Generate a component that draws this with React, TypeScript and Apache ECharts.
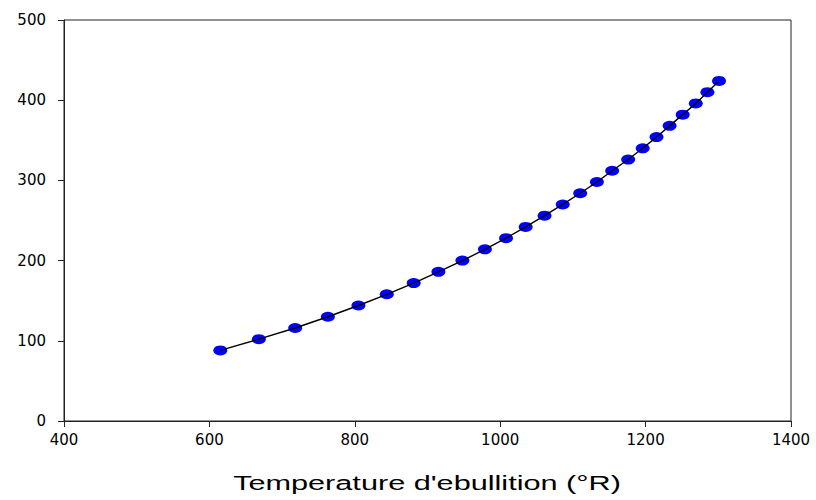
import React, { useEffect, useRef } from "react";
import * as echarts from "echarts";

const temperatures = [615, 668, 718, 763, 805, 844, 881, 915, 948, 979, 1008, 1035, 1061, 1086, 1110, 1133, 1154, 1176, 1196, 1215, 1233, 1251, 1269, 1285, 1301];
const values = [88, 102, 116, 130, 144, 158, 172, 186, 200, 214, 228, 242, 256, 270, 284, 298, 312, 326, 340, 354, 368, 382, 396, 410, 424];
const xTitle = "Temperature d'ebullition (°R)";

export default function App() {
  const ref = useRef<HTMLDivElement>(null);
  useEffect(() => {
    if (!ref.current) return;
    const chart = echarts.init(ref.current, null, { renderer: "svg" });
    const pts = temperatures.map((t, i) => [t, values[i]]);
    const axisColor = "#222";
    const fmt = (v: number) => String(v);
    chart.setOption({
      animation: false,
      backgroundColor: "#fff",
      grid: { left: 64, right: 25, top: 20, bottom: 79, show: true, borderColor: axisColor, borderWidth: 1 },
      xAxis: {
        type: "value",
        min: 400,
        max: 1400,
        interval: 200,
        axisLine: { show: true, onZero: false, lineStyle: { color: axisColor, width: 1 } },
        axisTick: { show: true, inside: false, length: 6, lineStyle: { color: axisColor } },
        axisLabel: { color: "#000", fontSize: 15, fontFamily: "DejaVu Sans", margin: 11, formatter: fmt },
        splitLine: { show: false },
      },
      yAxis: {
        type: "value",
        min: 0,
        max: 500,
        interval: 100,
        axisLine: { show: true, onZero: false, lineStyle: { color: axisColor, width: 1 } },
        axisTick: { show: true, inside: false, length: 6, lineStyle: { color: axisColor } },
        axisLabel: { color: "#000", fontSize: 15, fontFamily: "DejaVu Sans", margin: 18, formatter: fmt },
        splitLine: { show: false },
      },
      graphic: [
        {
          type: "text",
          x: 427,
          y: 483,
          scaleX: 1.46,
          style: {
            text: xTitle,
            fill: "#000",
            fontSize: 21,
            fontFamily: "Liberation Sans, Arial, sans-serif",
            align: "center",
            verticalAlign: "middle",
          },
        },
      ],
      series: [
        {
          type: "scatter",
          data: pts,
          symbol: "circle",
          symbolSize: [14, 10],
          itemStyle: { color: "#0000ff", opacity: 1 },
          z: 2,
        },
        {
          type: "line",
          data: pts,
          showSymbol: false,
          symbol: "none",
          lineStyle: { color: "#000", width: 1.4 },
          z: 3,
        },
      ],
    });
    return () => chart.dispose();
  }, []);
  return <div ref={ref} style={{ width: 816, height: 500, position: "absolute", left: 0, top: 0 }} />;
}
